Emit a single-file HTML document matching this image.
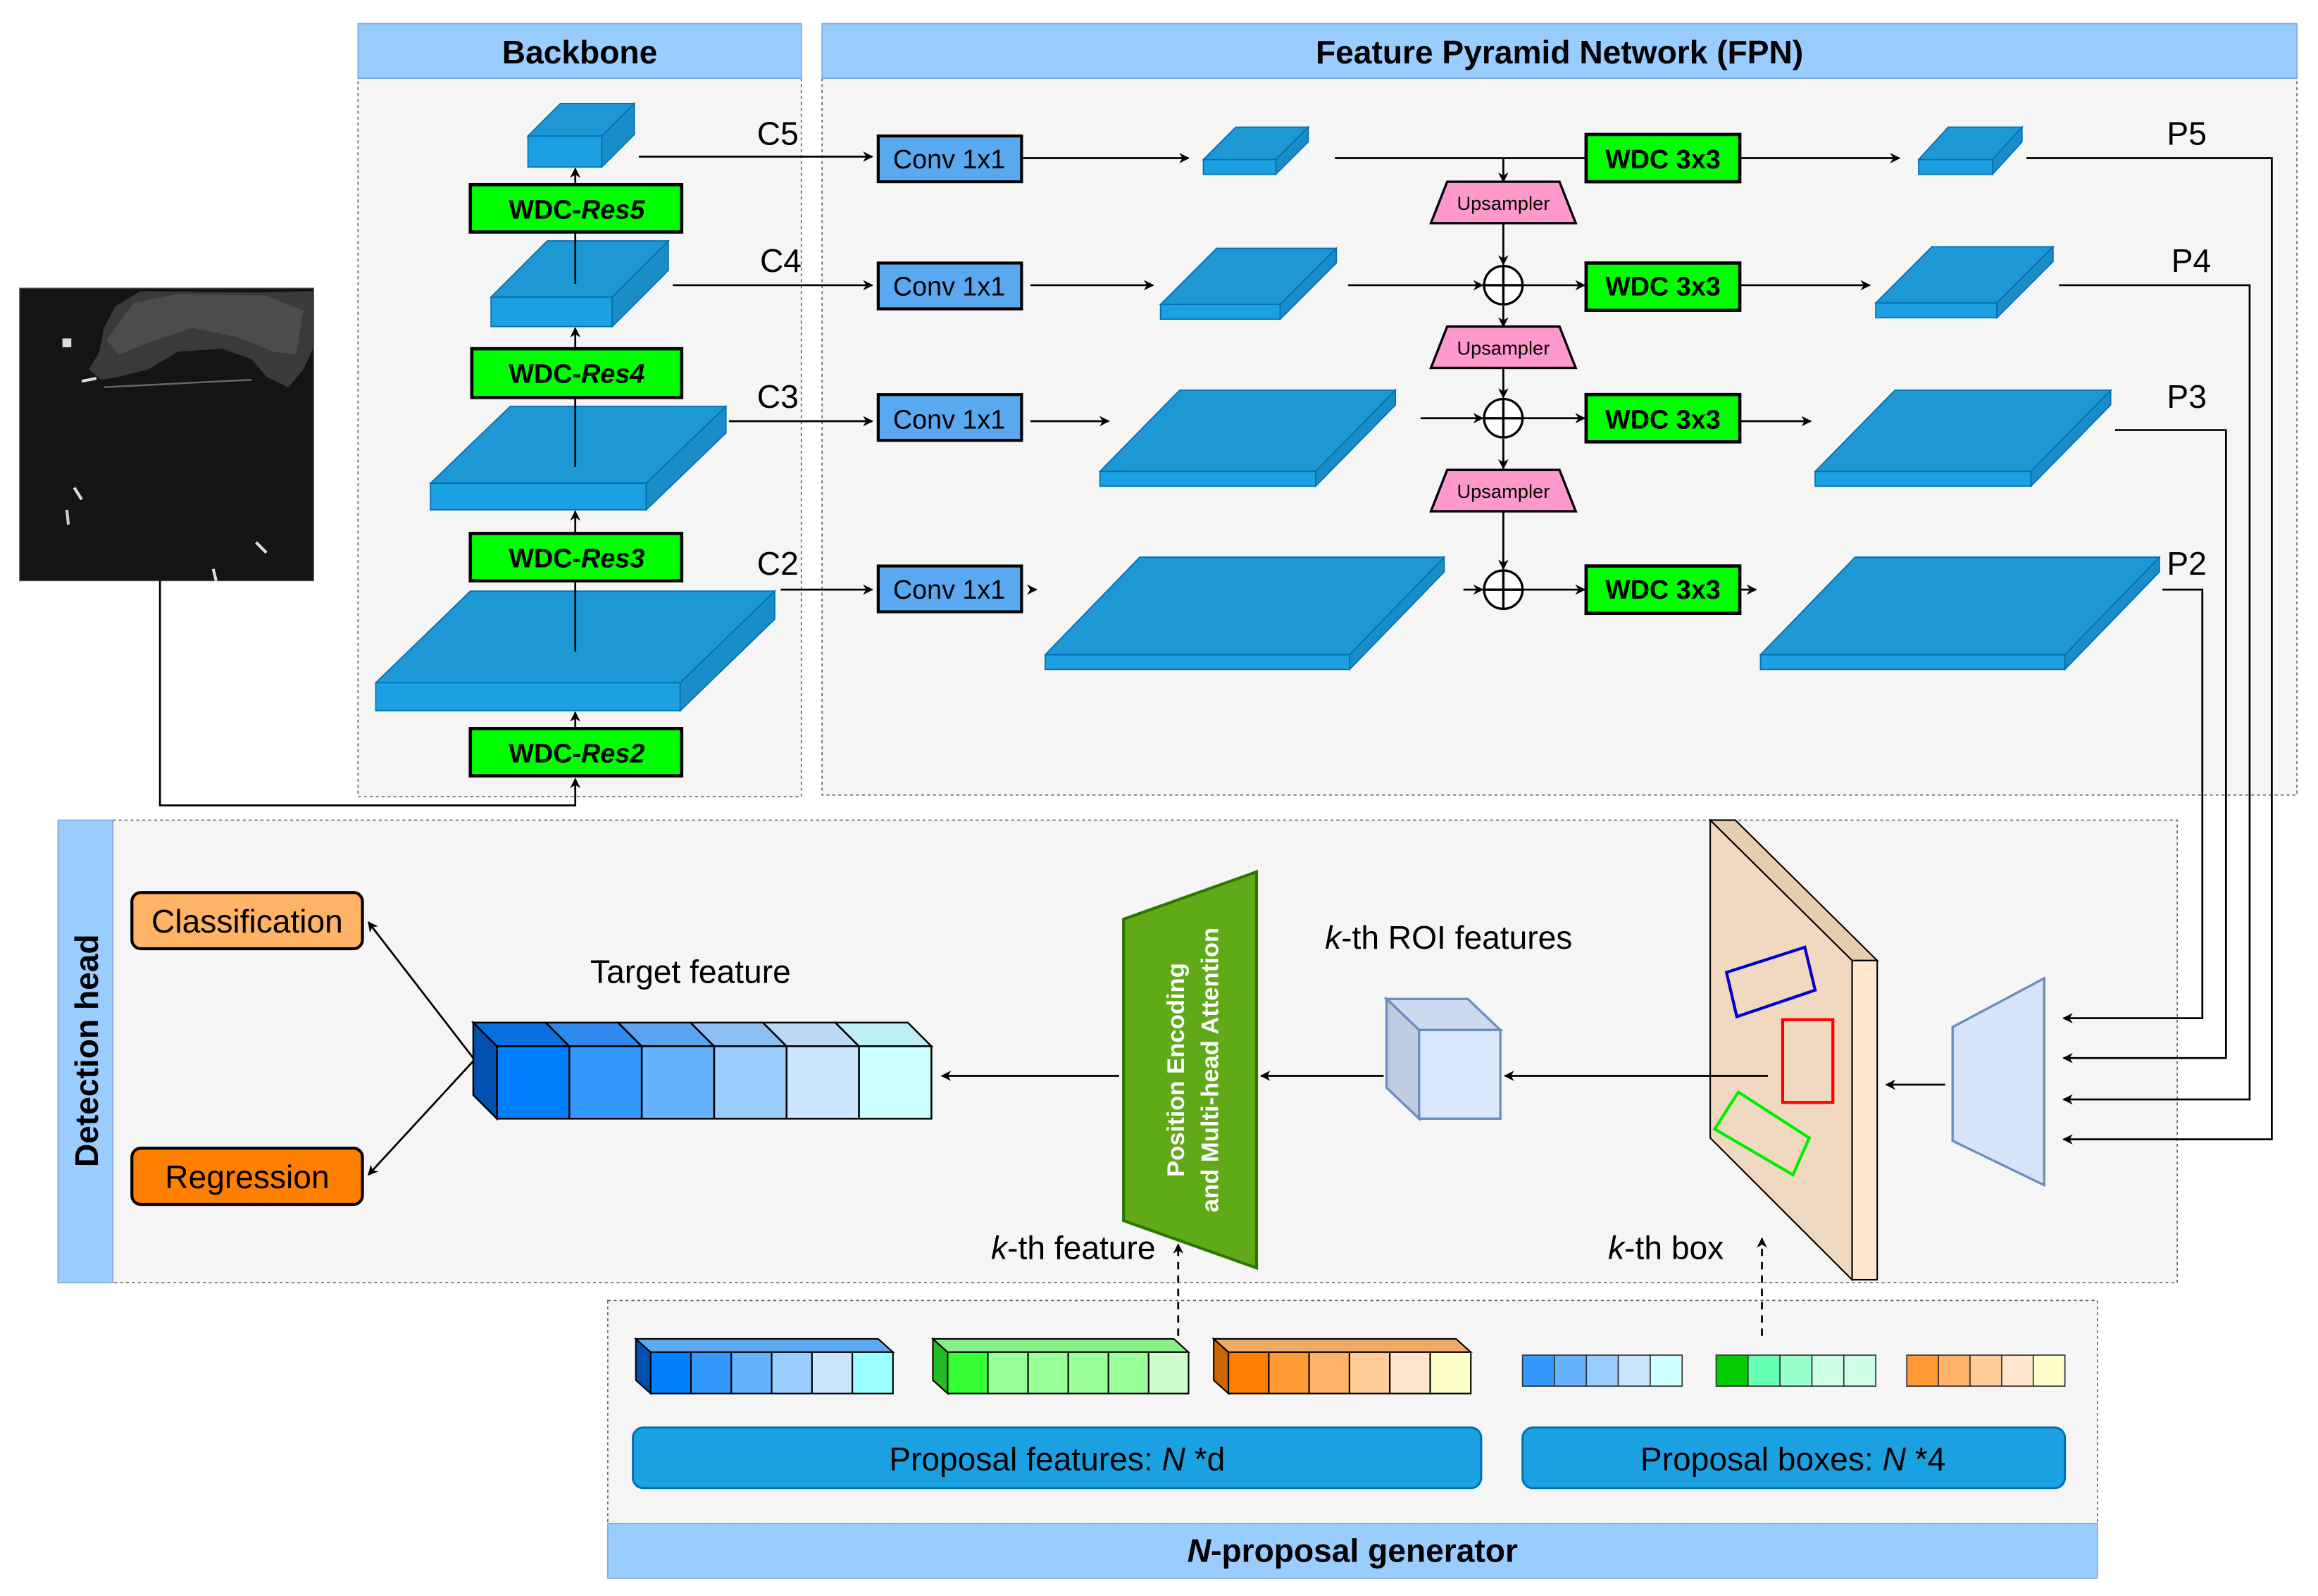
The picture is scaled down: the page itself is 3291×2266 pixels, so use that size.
<!DOCTYPE html>
<html><head><meta charset="utf-8"><style>
html,body{margin:0;padding:0;background:#fff}
svg{display:block}
text{font-family:"Liberation Sans",Arial,sans-serif}
</style></head><body>
<svg width="3291" height="2266" viewBox="0 0 1568 1080" xmlns="http://www.w3.org/2000/svg">
<defs>
<marker id="a" viewBox="0 0 10 10" refX="9" refY="5" markerWidth="7" markerHeight="7" orient="auto-start-reverse" markerUnits="userSpaceOnUse"><path d="M0,0 L10,5 L0,10 L3,5 z" fill="#000"/></marker>
</defs>
<rect width="1568" height="1080" fill="#fff"/>

<!-- Panels -->
<rect x="242" y="53" width="300" height="486" fill="#f5f5f5" stroke="#666" stroke-width="0.8" stroke-dasharray="2,2"/>
<rect x="242" y="16" width="300" height="37" fill="#99ccff" stroke="#7ea6e0" stroke-width="0.8"/>
<text x="392" y="43" font-size="22" font-weight="bold" text-anchor="middle">Backbone</text>
<rect x="556" y="53" width="998" height="485" fill="#f5f5f5" stroke="#666" stroke-width="0.8" stroke-dasharray="2,2"/>
<rect x="556" y="16" width="998" height="37" fill="#99ccff" stroke="#7ea6e0" stroke-width="0.8"/>
<text x="1055" y="43" font-size="22" font-weight="bold" text-anchor="middle">Feature Pyramid Network (FPN)</text>
<rect x="76" y="555" width="1397" height="313" fill="#f5f5f5" stroke="#666" stroke-width="0.8" stroke-dasharray="2,2"/>
<rect x="39" y="555" width="37" height="313" fill="#99ccff" stroke="#7ea6e0" stroke-width="0.8"/>
<text transform="translate(66,711) rotate(-90)" font-size="22" font-weight="bold" text-anchor="middle">Detection head</text>
<rect x="411" y="880" width="1008" height="151" fill="#f5f5f5" stroke="#666" stroke-width="0.8" stroke-dasharray="2,2"/>
<rect x="411" y="1031" width="1008" height="37" fill="#99ccff" stroke="#7ea6e0" stroke-width="0.8"/>
<text x="915" y="1057" font-size="22" font-weight="bold" text-anchor="middle"><tspan font-style="italic">N</tspan>-proposal generator</text>

<!-- SAR image -->
<rect x="13" y="195" width="199" height="198" fill="#141414" stroke="#555" stroke-width="0.6"/>
<path d="M78,207 L95,197 L170,198 L212,197 L212,235 L205,250 L195,262 L180,255 L170,243 L150,236 L120,238 L100,250 L80,255 L68,257 L60,250 L67,238 L70,222 Z" fill="#3a3a3a"/>
<path d="M90,205 L120,199 L180,200 L205,210 L200,240 L185,238 L160,228 L130,222 L100,232 L80,240 L72,230 Z" fill="#4c4c4c"/>
<path d="M70,262 L130,259 L170,257" stroke="#666" stroke-width="1.2" fill="none"/>
<rect x="42" y="229" width="6" height="6" fill="#ddd"/>
<line x1="55" y1="258" x2="65" y2="256" stroke="#ddd" stroke-width="2"/>
<line x1="50" y1="330" x2="55" y2="338" stroke="#ddd" stroke-width="2"/>
<line x1="45" y1="345" x2="46" y2="355" stroke="#ccc" stroke-width="2"/>
<line x1="173" y1="367" x2="180" y2="374" stroke="#ddd" stroke-width="2"/>
<line x1="144" y1="385" x2="146" y2="393" stroke="#ddd" stroke-width="2"/>

<!-- image to backbone -->
<polyline points="108,393 108,545 389,545 389,527" fill="none" stroke="#000" stroke-width="1.3" marker-end="url(#a)"/>

<!-- Backbone slabs -->
<g fill="#1ba1e2" stroke="#006eaf" stroke-width="0.8">
<rect x="357" y="92" width="50" height="21"/><polygon points="357,92 379,70 429,70 407,92" fill="#1d98d4"/><polygon points="407,92 429,70 429,91 407,113" fill="#1a8cc7"/>
<rect x="332" y="201" width="82" height="20"/><polygon points="332,201 370,163 452,163 414,201" fill="#1d98d4"/><polygon points="414,201 452,163 452,183 414,221" fill="#1a8cc7"/>
<rect x="291" y="327" width="146" height="18"/><polygon points="291,327 345,275 491,275 437,327" fill="#1d98d4"/><polygon points="437,327 491,275 491,293 437,345" fill="#1a8cc7"/>
<rect x="254" y="462" width="206" height="19"/><polygon points="254,462 318,400 524,400 460,462" fill="#1d98d4"/><polygon points="460,462 524,400 524,419 460,481" fill="#1a8cc7"/>
</g>
<g stroke="#000" stroke-width="1.3" fill="none">
<line x1="389" y1="493" x2="389" y2="482" marker-end="url(#a)"/>
<line x1="389" y1="441" x2="389" y2="393"/>
<line x1="389" y1="361" x2="389" y2="346" marker-end="url(#a)"/>
<line x1="389" y1="316" x2="389" y2="269"/>
<line x1="389" y1="236" x2="389" y2="222" marker-end="url(#a)"/>
<line x1="389" y1="192" x2="389" y2="157"/>
<line x1="389" y1="125" x2="389" y2="114" marker-end="url(#a)"/>
</g>
<g fill="#00ff00" stroke="#000" stroke-width="2.2">
<rect x="318" y="125" width="143" height="32"/>
<rect x="319" y="236" width="142" height="33"/>
<rect x="318" y="361" width="143" height="32"/>
<rect x="318" y="493" width="143" height="32"/>
</g>
<g font-size="18" font-weight="bold" text-anchor="middle">
<text x="390" y="148">WDC-<tspan font-style="italic">Res5</tspan></text>
<text x="390" y="259">WDC-<tspan font-style="italic">Res4</tspan></text>
<text x="390" y="384">WDC-<tspan font-style="italic">Res3</tspan></text>
<text x="390" y="516">WDC-<tspan font-style="italic">Res2</tspan></text>
</g>

<g font-size="22">
<text x="512" y="98">C5</text><text x="514" y="184">C4</text><text x="512" y="276">C3</text><text x="512" y="389">C2</text>
<text x="1466" y="98">P5</text><text x="1469" y="184">P4</text><text x="1466" y="276">P3</text><text x="1466" y="389">P2</text>
</g>
<g stroke="#000" stroke-width="1.3" fill="none" marker-end="url(#a)">
<line x1="432" y1="106" x2="590" y2="106"/>
<line x1="455" y1="193" x2="590" y2="193"/>
<line x1="493" y1="285" x2="590" y2="285"/>
<line x1="528" y1="399" x2="590" y2="399"/>
</g>

<g fill="#5aa8f0" stroke="#000" stroke-width="2">
<rect x="594" y="92" width="97" height="31"/><rect x="594" y="178" width="97" height="31"/>
<rect x="594" y="267" width="97" height="31"/><rect x="594" y="383" width="97" height="31"/>
</g>
<g font-size="18" text-anchor="middle">
<text x="642" y="114">Conv 1x1</text><text x="642" y="200">Conv 1x1</text>
<text x="642" y="290">Conv 1x1</text><text x="642" y="405">Conv 1x1</text>
</g>
<g stroke="#000" stroke-width="1.3" fill="none" marker-end="url(#a)">
<line x1="691" y1="107" x2="804" y2="107"/>
<line x1="697" y1="193" x2="780" y2="193"/>
<line x1="697" y1="285" x2="750" y2="285"/>
<line x1="697" y1="399" x2="701" y2="399"/>
</g>

<g fill="#1ba1e2" stroke="#006eaf" stroke-width="0.8">
<rect x="814" y="108" width="49" height="10"/><polygon points="814,108 836,86 885,86 863,108" fill="#1d98d4"/><polygon points="863,108 885,86 885,96 863,118" fill="#1a8cc7"/>
<rect x="785" y="206" width="81" height="10"/><polygon points="785,206 823,168 904,168 866,206" fill="#1d98d4"/><polygon points="866,206 904,168 904,178 866,216" fill="#1a8cc7"/>
<rect x="744" y="319" width="146" height="10"/><polygon points="744,319 798,264 944,264 890,319" fill="#1d98d4"/><polygon points="890,319 944,264 944,274 890,329" fill="#1a8cc7"/>
<rect x="707" y="443" width="206" height="10"/><polygon points="707,443 771,377 977,377 913,443" fill="#1d98d4"/><polygon points="913,443 977,377 977,387 913,453" fill="#1a8cc7"/>
<rect x="1298" y="108" width="50" height="10"/><polygon points="1298,108 1318,86 1368,86 1348,108" fill="#1d98d4"/><polygon points="1348,108 1368,86 1368,96 1348,118" fill="#1a8cc7"/>
<rect x="1269" y="205" width="82" height="10"/><polygon points="1269,205 1307,167 1389,167 1351,205" fill="#1d98d4"/><polygon points="1351,205 1389,167 1389,177 1351,215" fill="#1a8cc7"/>
<rect x="1228" y="319" width="146" height="10"/><polygon points="1228,319 1282,264 1428,264 1374,319" fill="#1d98d4"/><polygon points="1374,319 1428,264 1428,274 1374,329" fill="#1a8cc7"/>
<rect x="1191" y="443" width="206" height="10"/><polygon points="1191,443 1255,377 1461,377 1397,443" fill="#1d98d4"/><polygon points="1397,443 1461,377 1461,387 1397,453" fill="#1a8cc7"/>
</g>

<g stroke="#000" stroke-width="1.3" fill="none">
<line x1="903" y1="107" x2="1073" y2="107"/>
<line x1="1017" y1="107" x2="1017" y2="123" marker-end="url(#a)"/>
<line x1="1017" y1="151" x2="1017" y2="179" marker-end="url(#a)"/>
<line x1="912" y1="193" x2="1003" y2="193" marker-end="url(#a)"/>
<line x1="1030" y1="193" x2="1072" y2="193" marker-end="url(#a)"/>
<line x1="1017" y1="207" x2="1017" y2="221" marker-end="url(#a)"/>
<line x1="1017" y1="249" x2="1017" y2="269" marker-end="url(#a)"/>
<line x1="961" y1="283" x2="1003" y2="283" marker-end="url(#a)"/>
<line x1="1030" y1="283" x2="1072" y2="283" marker-end="url(#a)"/>
<line x1="1017" y1="297" x2="1017" y2="317" marker-end="url(#a)"/>
<line x1="1017" y1="346" x2="1017" y2="385" marker-end="url(#a)"/>
<line x1="990" y1="399" x2="1003" y2="399" marker-end="url(#a)"/>
<line x1="1030" y1="399" x2="1072" y2="399" marker-end="url(#a)"/>
</g>
<g fill="#ff99cc" stroke="#000" stroke-width="1.6">
<polygon points="979,123 1055,123 1066,151 968,151"/>
<polygon points="979,221 1055,221 1066,249 968,249"/>
<polygon points="979,318 1055,318 1066,346 968,346"/>
</g>
<g font-size="13" text-anchor="middle">
<text x="1017" y="142">Upsampler</text><text x="1017" y="240">Upsampler</text><text x="1017" y="337">Upsampler</text>
</g>
<g fill="#fff" stroke="#000" stroke-width="1.6">
<circle cx="1017" cy="193" r="13"/><circle cx="1017" cy="283" r="13"/><circle cx="1017" cy="399" r="13"/>
</g>
<g stroke="#000" stroke-width="1.6">
<line x1="1004" y1="193" x2="1030" y2="193"/><line x1="1017" y1="180" x2="1017" y2="206"/>
<line x1="1004" y1="283" x2="1030" y2="283"/><line x1="1017" y1="270" x2="1017" y2="296"/>
<line x1="1004" y1="399" x2="1030" y2="399"/><line x1="1017" y1="386" x2="1017" y2="412"/>
</g>
<g fill="#00ff00" stroke="#000" stroke-width="2.2">
<rect x="1073" y="91" width="104" height="32"/><rect x="1073" y="178" width="104" height="32"/>
<rect x="1073" y="267" width="104" height="32"/><rect x="1073" y="383" width="104" height="32"/>
</g>
<g font-size="18" font-weight="bold" text-anchor="middle">
<text x="1125" y="114">WDC 3x3</text><text x="1125" y="200">WDC 3x3</text>
<text x="1125" y="290">WDC 3x3</text><text x="1125" y="405">WDC 3x3</text>
</g>
<g stroke="#000" stroke-width="1.3" fill="none" marker-end="url(#a)">
<line x1="1177" y1="107" x2="1285" y2="107"/>
<line x1="1177" y1="193" x2="1265" y2="193"/>
<line x1="1177" y1="285" x2="1225" y2="285"/>
<line x1="1177" y1="399" x2="1188" y2="399"/>
<polyline points="1371,107 1537,107 1537,771 1396,771"/>
<polyline points="1393,193 1522,193 1522,744 1396,744"/>
<polyline points="1431,291 1506,291 1506,716 1396,716"/>
<polyline points="1463,399 1490,399 1490,689 1396,689"/>
</g>

<!-- Detection head -->
<polygon points="1321,695 1383,662 1383,802 1321,772" fill="#d6e4f7" stroke="#6c8ebf" stroke-width="1.6"/>
<line x1="1316" y1="734" x2="1276" y2="734" stroke="#000" stroke-width="1.3" marker-end="url(#a)"/>
<polygon points="1157,555 1174,555 1270,650 1253,650" fill="#e6cdb0" stroke="#000" stroke-width="1"/>
<rect x="1253" y="650" width="17" height="216" fill="#ffe6cc" stroke="#000" stroke-width="1"/>
<polygon points="1157,555 1253,650 1253,866 1157,770" fill="#f0d9c0" stroke="#000" stroke-width="1"/>
<polygon points="1168,658 1221,641 1228,670 1175,688" fill="none" stroke="#0000cc" stroke-width="2"/>
<rect x="1206" y="690" width="34" height="56" fill="none" stroke="#ff0000" stroke-width="2"/>
<polygon points="1176,739 1224,770 1213,795 1160,764" fill="none" stroke="#00ee00" stroke-width="2"/>
<line x1="1196" y1="728" x2="1018" y2="728" stroke="#000" stroke-width="1.3" marker-end="url(#a)"/>
<polygon points="938,676 993,676 1015,697 960,697" fill="#ccdaee" stroke="#6c8ebf" stroke-width="1.6"/>
<polygon points="938,676 960,697 960,757 938,736" fill="#c0cde0" stroke="#6c8ebf" stroke-width="1.6"/>
<rect x="960" y="697" width="55" height="60" fill="#dae8fc" stroke="#6c8ebf" stroke-width="1.6"/>
<text x="980" y="642" font-size="22" text-anchor="middle"><tspan font-style="italic">k</tspan>-th ROI features</text>
<line x1="936" y1="728" x2="853" y2="728" stroke="#000" stroke-width="1.3" marker-end="url(#a)"/>
<polygon points="760,622 850,590 850,858 760,826" fill="#60a917" stroke="#2d7600" stroke-width="2"/>
<text transform="translate(801,724) rotate(-90)" font-size="16.5" font-weight="bold" fill="#fff" text-anchor="middle">Position Encoding</text>
<text transform="translate(824,724) rotate(-90)" font-size="16.5" font-weight="bold" fill="#fff" text-anchor="middle">and Multi-head Attention</text>
<line x1="757" y1="728" x2="637" y2="728" stroke="#000" stroke-width="1.3" marker-end="url(#a)"/>

<text x="467" y="665" font-size="22" text-anchor="middle">Target feature</text>
<g stroke="#000" stroke-width="1.2">
<polygon points="320,692 336,708 336,757 320,741" fill="#0050b0"/>
<polygon points="320,692 369,692 385,708 336,708" fill="#0a70e0"/>
<polygon points="369,692 418,692 434,708 385,708" fill="#2e88ee"/>
<polygon points="418,692 467,692 483,708 434,708" fill="#5ca4f0"/>
<polygon points="467,692 516,692 532,708 483,708" fill="#8cc0f2"/>
<polygon points="516,692 565,692 581,708 532,708" fill="#bcd8f4"/>
<polygon points="565,692 614,692 630,708 581,708" fill="#bcf0f4"/>
<rect x="336" y="708" width="49" height="49" fill="#007fff"/>
<rect x="385" y="708" width="49" height="49" fill="#3399ff"/>
<rect x="434" y="708" width="49" height="49" fill="#66b2ff"/>
<rect x="483" y="708" width="49" height="49" fill="#99ccff"/>
<rect x="532" y="708" width="49" height="49" fill="#cce5ff"/>
<rect x="581" y="708" width="49" height="49" fill="#ccffff"/>
</g>
<g stroke="#000" stroke-width="1.3" fill="none" marker-end="url(#a)">
<line x1="320" y1="716" x2="249" y2="624"/>
<line x1="320" y1="718" x2="249" y2="795"/>
</g>
<rect x="89" y="604" width="156" height="38" rx="6" fill="#ffb366" stroke="#000" stroke-width="2"/>
<text x="167" y="631" font-size="22" text-anchor="middle">Classification</text>
<rect x="89" y="777" width="156" height="38" rx="6" fill="#ff8000" stroke="#000" stroke-width="2"/>
<text x="167" y="804" font-size="22" text-anchor="middle">Regression</text>

<text x="726" y="852" font-size="22" text-anchor="middle"><tspan font-style="italic">k</tspan>-th feature</text>
<text x="1127" y="852" font-size="22" text-anchor="middle"><tspan font-style="italic">k</tspan>-th box</text>
<g stroke="#000" stroke-width="1.3" stroke-dasharray="5,4" fill="none">
<line x1="797" y1="904" x2="797" y2="842" marker-end="url(#a)"/>
<line x1="1192" y1="904" x2="1192" y2="838" marker-end="url(#a)"/>
</g>

<g stroke="#000" stroke-width="1">
<polygon points="430,906 440,915 440,943 430,934" fill="#0050b0"/>
<polygon points="430,906 594,906 604,915 440,915" fill="#5ea8f0"/>
<rect x="440" y="915" width="27.3" height="28" fill="#007fff"/><rect x="467.3" y="915" width="27.3" height="28" fill="#3399ff"/>
<rect x="494.6" y="915" width="27.3" height="28" fill="#66b2ff"/><rect x="521.9" y="915" width="27.3" height="28" fill="#99ccff"/>
<rect x="549.2" y="915" width="27.3" height="28" fill="#cce5ff"/><rect x="576.5" y="915" width="27.5" height="28" fill="#99ffff"/>
<polygon points="631,906 641,915 641,943 631,934" fill="#22bb22"/>
<polygon points="631,906 794,906 804,915 641,915" fill="#88ee88"/>
<rect x="641" y="915" width="27.2" height="28" fill="#33ff33"/><rect x="668.2" y="915" width="27.2" height="28" fill="#99ff99"/>
<rect x="695.4" y="915" width="27.2" height="28" fill="#99ff99"/><rect x="722.6" y="915" width="27.2" height="28" fill="#99ff99"/>
<rect x="749.8" y="915" width="27.2" height="28" fill="#99ff99"/><rect x="777" y="915" width="27" height="28" fill="#ccffcc"/>
<polygon points="821,906 831,915 831,943 821,934" fill="#cc6600"/>
<polygon points="821,906 985,906 995,915 831,915" fill="#eeaa66"/>
<rect x="831" y="915" width="27.3" height="28" fill="#ff8000"/><rect x="858.3" y="915" width="27.3" height="28" fill="#ff9933"/>
<rect x="885.6" y="915" width="27.3" height="28" fill="#ffb366"/><rect x="912.9" y="915" width="27.3" height="28" fill="#ffcc99"/>
<rect x="940.2" y="915" width="27.3" height="28" fill="#ffe6cc"/><rect x="967.5" y="915" width="27.5" height="28" fill="#ffffcc"/>
</g>
<g stroke="#333" stroke-width="0.8">
<rect x="1030" y="917" width="21.6" height="21" fill="#3399ff"/><rect x="1051.6" y="917" width="21.6" height="21" fill="#66b2ff"/>
<rect x="1073.2" y="917" width="21.6" height="21" fill="#99ccff"/><rect x="1094.8" y="917" width="21.6" height="21" fill="#cce5ff"/>
<rect x="1116.4" y="917" width="21.6" height="21" fill="#ccffff"/>
<rect x="1161" y="917" width="21.6" height="21" fill="#00cc00"/><rect x="1182.6" y="917" width="21.6" height="21" fill="#66ffb3"/>
<rect x="1204.2" y="917" width="21.6" height="21" fill="#99ffcc"/><rect x="1225.8" y="917" width="21.6" height="21" fill="#ccffe6"/>
<rect x="1247.4" y="917" width="21.6" height="21" fill="#ccffe6"/>
<rect x="1290" y="917" width="21.4" height="21" fill="#ff9933"/><rect x="1311.4" y="917" width="21.4" height="21" fill="#ffb366"/>
<rect x="1332.8" y="917" width="21.4" height="21" fill="#ffcc99"/><rect x="1354.2" y="917" width="21.4" height="21" fill="#ffe6cc"/>
<rect x="1375.6" y="917" width="21.4" height="21" fill="#ffffcc"/>
</g>
<rect x="428" y="966" width="574" height="41" rx="7" fill="#1ba1e2" stroke="#006eaf" stroke-width="1.4"/>
<text x="715" y="995" font-size="22" text-anchor="middle">Proposal features: <tspan font-style="italic">N</tspan> *d</text>
<rect x="1030" y="966" width="367" height="41" rx="7" fill="#1ba1e2" stroke="#006eaf" stroke-width="1.4"/>
<text x="1213" y="995" font-size="22" text-anchor="middle">Proposal boxes: <tspan font-style="italic">N</tspan> *4</text>
</svg>
</body></html>
